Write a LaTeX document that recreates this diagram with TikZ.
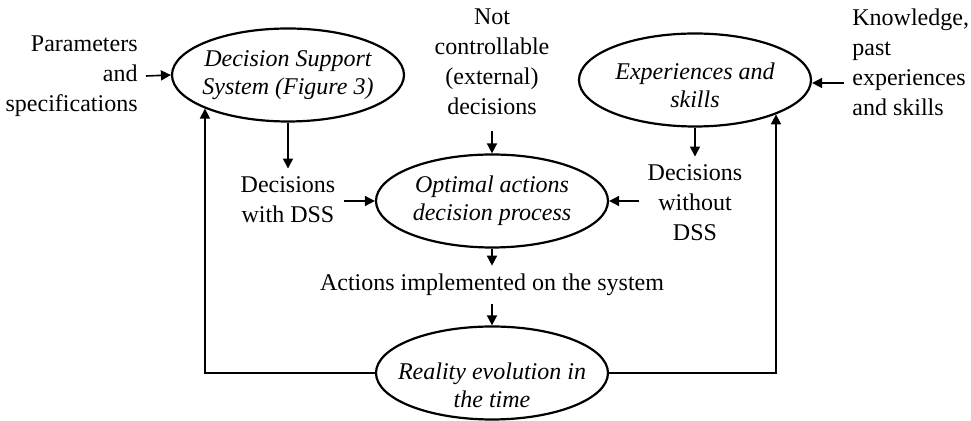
\documentclass[tikz,border=0pt]{standalone}
\usepackage{fontspec}
\setmainfont{Liberation Serif}
\usetikzlibrary{arrows.meta}
\usetikzlibrary{shapes.geometric}

\begin{document}
\begin{tikzpicture}[
    x=0.5pt, y=-0.5pt,
    every node/.style={font=\fontsize{12pt}{15pt}\selectfont},
    process/.style={ellipse, draw, line width=1.1pt, minimum width=116pt,
        minimum height=46.5pt, inner xsep=-20pt, inner ysep=-6pt, align=center,
        font=\fontsize{12pt}{14pt}\selectfont\itshape},
    info/.style={inner sep=4pt},
    flow/.style={-{Triangle[length=5pt,width=5pt]}, line width=0.8pt},
    ]
    \useasboundingbox (0,0) rectangle (971,421);

    % the four processes
    \node[process] (dss) at (288,75) {Decision Support\\System (Figure 3)};
    \node[process] (exp) at (695,80) {\rule{0pt}{14pt}Experiences and\\skills};
    \node[process] (opt) at (492,201) {Optimal actions\\decision process};
    \node[process] (real) at (492,373) {\rule{0pt}{21pt}Reality evolution in\\the time};
    % inputs and outputs
    \node[info, align=right, anchor=east] (param) at (146,76) {Parameters\\and\\specifications};
    \node[info, align=center] (ext) at (492,62) {Not\\controllable\\(external)\\decisions};
    \node[info, align=left, anchor=west] (know) at (844,62) {Knowledge,\\past\\experiences\\and skills};
    \node[info, align=center] (withdss) at (288,200) {Decisions\\with DSS};
    \node[info, align=center] (nodss) at (695,203) {Decisions\\without\\DSS};
    \node[info] (act) at (492,285) {Actions implemented on the system};

    % arrows
    \draw[flow] (param.east) -- (dss.west);
    \draw[flow, shorten <=4pt] (ext.south) -- (opt.north);
    \draw[flow] (know.west |- exp.east) ++(0,3) -- ([yshift=-1.5pt]exp.east);
    \draw[flow] (dss.south) -- (withdss.north);
    \draw[flow] (exp.south) -- (nodss.north);
    \draw[flow] (withdss.east |- opt.west) -- (opt.west);
    \draw[flow] (nodss.west |- opt.east) -- (opt.east);
    \draw[flow] (opt.south) -- (act.north);
    \draw[flow] (act.south) -- (real.north);
    % feedback loops
    \draw[flow] (real.west) -| (dss.202);
    \draw[flow] (real.east) -| (exp.337);
\end{tikzpicture}
\end{document}
